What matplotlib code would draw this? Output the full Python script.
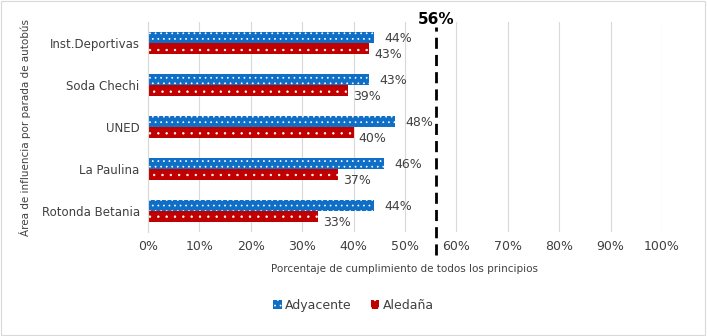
import matplotlib
matplotlib.use("Agg")
import matplotlib.pyplot as plt
from matplotlib.patches import Rectangle
import numpy as np

categories = ["Inst.Deportivas", "Soda Chechi", "UNED", "La Paulina", "Rotonda Betania"]
adyacente = [44, 43, 48, 46, 44]
aledana = [43, 39, 40, 37, 33]
threshold = 56
xticks = list(range(0, 101, 10))

plt.rcParams['font.family'] = ['DejaVu Sans']
plt.rcParams['hatch.color'] = 'white'
plt.rcParams['hatch.linewidth'] = 0.5

fig = plt.figure(figsize=(7.07, 3.36), dpi=100)
ax = fig.add_axes([0.2093, 0.3095, 0.727, 0.625])

blue = '#0F6FC6'
red = '#C00000'
txt = '#404040'

y = np.arange(len(categories))
h = 0.27
b1 = ax.barh(y - h/2, adyacente, height=h, color=blue, hatch='...', edgecolor='white', linewidth=0, label='Adyacente')
b2 = ax.barh(y + h/2, aledana, height=h, color=red, hatch='..', edgecolor='white', linewidth=0, label='Aledaña')

for yi, v in zip(y - h/2, adyacente):
    ax.text(v + 2.0, yi + 0.02, f"{v}%", va='center', ha='left', fontsize=9, color=txt)
for yi, v in zip(y + h/2, aledana):
    ax.text(v + 1.0, yi + 0.15, f"{v}%", va='center', ha='left', fontsize=9, color=txt)

ax.set_xlim(0, 100)
ax.set_ylim(len(categories) - 0.5, -0.5)
ax.set_yticks(y)
ax.set_yticklabels(categories, fontsize=8.5, color=txt)
ax.set_xticks(xticks)
ax.set_xticklabels([f"{t}%" for t in xticks], fontsize=9, color=txt)
ax.tick_params(axis='both', length=0, pad=6)
ax.xaxis.grid(True, color='#D9D9D9', linewidth=0.8)
ax.set_axisbelow(True)
for s in ['top', 'right', 'bottom']:
    ax.spines[s].set_visible(False)
ax.spines['left'].set_color('#D9D9D9')

ax.set_xlabel("Porcentaje de cumplimiento de todos los principios", fontsize=7.5, color=txt, labelpad=8)
ax.set_ylabel("Área de influencia por parada de autobús", fontsize=7.5, color=txt)
ax.yaxis.set_label_coords(-0.228, 0.5)

trans = ax.get_xaxis_transform()
ax.plot([threshold, threshold], [-0.11, 0.975], transform=trans, color='black', linestyle=(0, (4, 2.2)), linewidth=2, clip_on=False)
ax.text(threshold, 0.99, f"{threshold}%", transform=trans, ha='center', va='baseline', fontsize=11, fontweight='bold', color='black')

leg = fig.legend(handles=[b1, b2], loc='center', bbox_to_anchor=(0.5, 0.092), ncol=2, frameon=False,
                 fontsize=9, handlelength=0.7, handleheight=0.7, handletextpad=0.3, columnspacing=1.5)
for t in leg.get_texts():
    t.set_color(txt)

fig.patches.append(Rectangle((0.002, 0.003), 0.995, 0.994, transform=fig.transFigure, fill=False, edgecolor='#D9D9D9', linewidth=0.8))

fig.savefig("out.png", dpi=100)
